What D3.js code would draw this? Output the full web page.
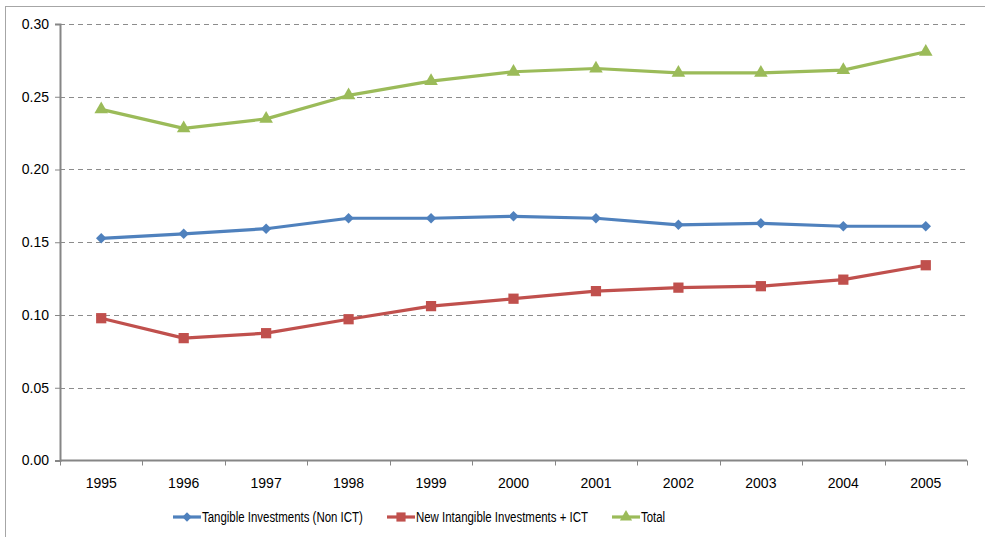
<!DOCTYPE html>
<html>
<head>
<meta charset="utf-8">
<script src="https://cdn.jsdelivr.net/npm/d3@7"></script>
<style>
  body { margin: 0; background: #fff; }
  svg { display: block; }
</style>
</head>
<body>
<svg id="chart" width="985" height="537"></svg>
<script>
const years = ["1995", "1996", "1997", "1998", "1999", "2000", "2001", "2002", "2003", "2004", "2005"];
const tangible = [0.1527, 0.1558, 0.1593, 0.1665, 0.1665, 0.1678, 0.1665, 0.162, 0.163, 0.161, 0.161];
const intangible = [0.0978, 0.0841, 0.0875, 0.0971, 0.1061, 0.1112, 0.1164, 0.1188, 0.1198, 0.1243, 0.1342];
const total = [0.2413, 0.2283, 0.2348, 0.2509, 0.2607, 0.2672, 0.2694, 0.2664, 0.2664, 0.2683, 0.2809];
const yTicks = [0, 0.05, 0.1, 0.15, 0.2, 0.25, 0.3];
const seriesNames = ["Tangible Investments (Non ICT)", "New Intangible Investments + ICT", "Total"];

const series = [
  { name: seriesNames[0], values: tangible, color: "#4f81bd", symbol: d3.symbolDiamond2, size: 70 },
  { name: seriesNames[1], values: intangible, color: "#c0504d", symbol: d3.symbolSquare, size: 105 },
  { name: seriesNames[2], values: total, color: "#9bbb59", symbol: d3.symbolTriangle, size: 80 },
];

const svg = d3.select("#chart");
const plot = { left: 60, right: 967, top: 24, bottom: 460.5 };

// outer chart frame (only left and top edges fall inside the picture)
svg.append("rect")
  .attr("x", 5.5).attr("y", 6.5)
  .attr("width", 1000).attr("height", 600)
  .attr("fill", "none").attr("stroke", "#a6a6a6").attr("stroke-width", 1);

const x = d3.scaleBand().domain(years).range([plot.left, plot.right]);
const y = d3.scaleLinear().domain([0, 0.3]).range([plot.bottom, plot.top]);

// dashed gridlines
svg.append("g")
  .selectAll("line")
  .data(yTicks.filter((d) => d > 0))
  .join("line")
  .attr("x1", plot.left).attr("x2", 965)
  .attr("y1", (d) => Math.round(y(d)) + 0.5)
  .attr("y2", (d) => Math.round(y(d)) + 0.5)
  .attr("stroke", "#8c8c8c")
  .attr("stroke-dasharray", "5,4");

// y axis
const yAxis = svg.append("g")
  .attr("transform", `translate(${plot.left},0)`)
  .call(d3.axisLeft(y).tickValues(yTicks).tickFormat(d3.format(".2f")).tickSize(5).tickPadding(6));
yAxis.select(".domain").attr("stroke", "#868686").attr("stroke-width", 2);
yAxis.selectAll(".tick line").attr("stroke", "#868686");
yAxis.selectAll("text")
  .style("font-family", "'Liberation Sans', Arial, sans-serif")
  .style("font-size", "14px").attr("fill", "#000");

// x axis, ticks at band boundaries
const xAxis = svg.append("g")
  .attr("transform", `translate(0,${plot.bottom})`);
xAxis.append("line")
  .attr("x1", plot.left).attr("x2", plot.right)
  .attr("stroke", "#868686").attr("stroke-width", 2);
xAxis.selectAll(".xt")
  .data(years.concat(["end"]))
  .join("line")
  .attr("class", "xt")
  .attr("x1", (d, i) => Math.round(plot.left + i * x.step()) + 0.5)
  .attr("x2", (d, i) => Math.round(plot.left + i * x.step()) + 0.5)
  .attr("y1", 0).attr("y2", 5)
  .attr("stroke", "#868686");
xAxis.selectAll("text")
  .data(years)
  .join("text")
  .attr("x", (d) => x(d) + x.bandwidth() / 2)
  .attr("y", 27)
  .attr("text-anchor", "middle")
  .style("font-family", "'Liberation Sans', Arial, sans-serif")
  .style("font-size", "14px")
  .text((d) => d);

const line = d3.line()
  .x((d, i) => x(years[i]) + x.bandwidth() / 2)
  .y((d) => y(d));

series.forEach((s) => {
  const g = svg.append("g");
  g.append("path")
    .datum(s.values)
    .attr("d", line)
    .attr("fill", "none")
    .attr("stroke", s.color)
    .attr("stroke-width", 3.2)
    .attr("stroke-linejoin", "round");
  g.selectAll("path.m")
    .data(s.values)
    .join("path")
    .attr("class", "m")
    .attr("d", d3.symbol().type(s.symbol).size(s.size))
    .attr("transform", (d, i) => `translate(${x(years[i]) + x.bandwidth() / 2},${y(d)})`)
    .attr("fill", s.color);
});

// legend (narrow font isn't installed, so squeeze regular sans horizontally)
const legendX = [173, 387, 612];
const legend = svg.append("g").attr("transform", "translate(0,517)");
series.forEach((s, i) => {
  const lg = legend.append("g").attr("transform", `translate(${legendX[i]},0)`);
  lg.append("line")
    .attr("x1", 0).attr("x2", 28)
    .attr("stroke", s.color).attr("stroke-width", 3.2);
  lg.append("path")
    .attr("d", d3.symbol().type(s.symbol).size(s.size * 0.8))
    .attr("transform", "translate(14,0)")
    .attr("fill", s.color);
  lg.append("text")
    .attr("transform", "translate(29,5) scale(0.79,1)")
    .style("font-family", "'Liberation Sans', Arial, sans-serif")
    .style("font-size", "14.5px")
    .text(s.name);
});
</script>
</body>
</html>
